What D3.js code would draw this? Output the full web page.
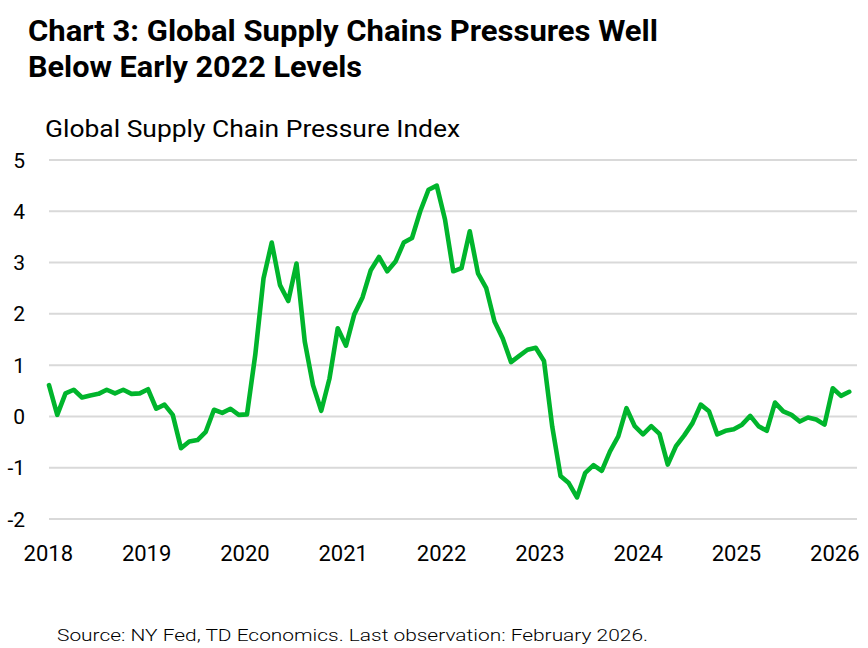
<!DOCTYPE html>
<html>
<head>
<meta charset="utf-8">
<script src="https://cdn.jsdelivr.net/npm/d3@7/dist/d3.min.js"></script>
<style>
  html, body { margin: 0; padding: 0; background: #fff; }
  svg { display: block; }
</style>
</head>
<body>
<div id="chart"></div>
<script>
// ---- Data (monthly, Jan 2018 – Feb 2026) ----
const years = ["2018","2019","2020","2021","2022","2023","2024","2025","2026"];
const yTicks = [5, 4, 3, 2, 1, 0, -1, -2];
const gscpi2018 = [0.61, 0.03, 0.45, 0.52, 0.37, 0.41, 0.44, 0.52, 0.45, 0.52, 0.44, 0.45];
const gscpi2019 = [0.53, 0.15, 0.23, 0.03, -0.62, -0.49, -0.46, -0.30, 0.13, 0.07, 0.15, 0.03];
const gscpi2020 = [0.04, 1.20, 2.69, 3.39, 2.56, 2.25, 2.98, 1.46, 0.61, 0.11, 0.74, 1.72];
const gscpi2021 = [1.38, 1.99, 2.32, 2.85, 3.11, 2.83, 3.02, 3.39, 3.48, 4.00, 4.42, 4.50];
const gscpi2022 = [3.84, 2.83, 2.89, 3.61, 2.79, 2.50, 1.85, 1.52, 1.06, 1.18, 1.30, 1.34];
const gscpi2023 = [1.08, -0.20, -1.16, -1.30, -1.58, -1.10, -0.95, -1.06, -0.68, -0.39, 0.16, -0.19];
const gscpi2024 = [-0.35, -0.19, -0.34, -0.94, -0.58, -0.37, -0.13, 0.23, 0.10, -0.35, -0.28, -0.25];
const gscpi2025 = [-0.16, 0.01, -0.19, -0.28, 0.27, 0.10, 0.03, -0.10, -0.02, -0.06, -0.16, 0.55];
const gscpi2026 = [0.40, 0.48];

const values = [].concat(gscpi2018, gscpi2019, gscpi2020, gscpi2021, gscpi2022,
                         gscpi2023, gscpi2024, gscpi2025, gscpi2026);
const series = values.map((v, i) => ({ i, v }));

// ---- Layout ----
const W = 868, H = 648;
const svg = d3.select("#chart").append("svg")
  .attr("width", W).attr("height", H)
  .attr("viewBox", `0 0 ${W} ${H}`);

const FONT = "Roboto, 'Open Sans', 'DejaVu Sans', sans-serif";

const x = d3.scaleLinear().domain([0, values.length - 1]).range([49, 849.25]);
const y = d3.scaleLinear().domain([-2, 5]).range([519, 160]);
const xLabel = d3.scalePoint().domain(years).range([48.3, 834.8]);

// Title
svg.append("text")
  .attr("x", 28).attr("y", 41)
  .attr("font-family", FONT).attr("font-weight", 700)
  .attr("font-size", 29).attr("fill", "#000")
  .attr("textLength", 630).attr("lengthAdjust", "spacingAndGlyphs")
  .text("Chart 3: Global Supply Chains Pressures Well");
svg.append("text")
  .attr("x", 28).attr("y", 77)
  .attr("font-family", FONT).attr("font-weight", 700)
  .attr("font-size", 29).attr("fill", "#000")
  .attr("textLength", 334).attr("lengthAdjust", "spacingAndGlyphs")
  .text("Below Early 2022 Levels");

// Subtitle
svg.append("text")
  .attr("x", 45).attr("y", 137)
  .attr("font-family", FONT).attr("font-weight", 400)
  .attr("font-size", 23).attr("fill", "#000")
  .attr("textLength", 415).attr("lengthAdjust", "spacingAndGlyphs")
  .text("Global Supply Chain Pressure Index");

// Gridlines
svg.append("g").selectAll("line")
  .data(yTicks).join("line")
  .attr("x1", 49).attr("x2", 857)
  .attr("y1", d => y(d)).attr("y2", d => y(d))
  .attr("stroke", "#d9d9d9").attr("stroke-width", 2);

// Y tick labels
svg.append("g").selectAll("text")
  .data(yTicks).join("text")
  .attr("x", 25).attr("y", d => y(d))
  .attr("dy", "0.36em")
  .attr("text-anchor", "end")
  .attr("font-family", FONT).attr("font-size", 21).attr("fill", "#000")
  .text(d => d);

// X tick labels
svg.append("g").selectAll("text")
  .data(years).join("text")
  .attr("x", d => xLabel(d)).attr("y", 561)
  .attr("text-anchor", "middle")
  .attr("font-family", FONT).attr("font-size", 22).attr("fill", "#000")
  .text(d => d);

// Line
const line = d3.line().x(d => x(d.i)).y(d => y(d.v));
svg.append("path")
  .datum(series)
  .attr("d", line)
  .attr("fill", "none")
  .attr("stroke", "#00b52c")
  .attr("stroke-width", 4.6)
  .attr("stroke-linejoin", "round")
  .attr("stroke-linecap", "round");

// Footer
svg.append("text")
  .attr("x", 57).attr("y", 641)
  .attr("font-family", FONT).attr("font-weight", 300)
  .attr("font-size", 17).attr("fill", "#000")
  .attr("textLength", 591).attr("lengthAdjust", "spacingAndGlyphs")
  .text("Source: NY Fed, TD Economics. Last observation: February 2026.");
</script>
</body>
</html>
